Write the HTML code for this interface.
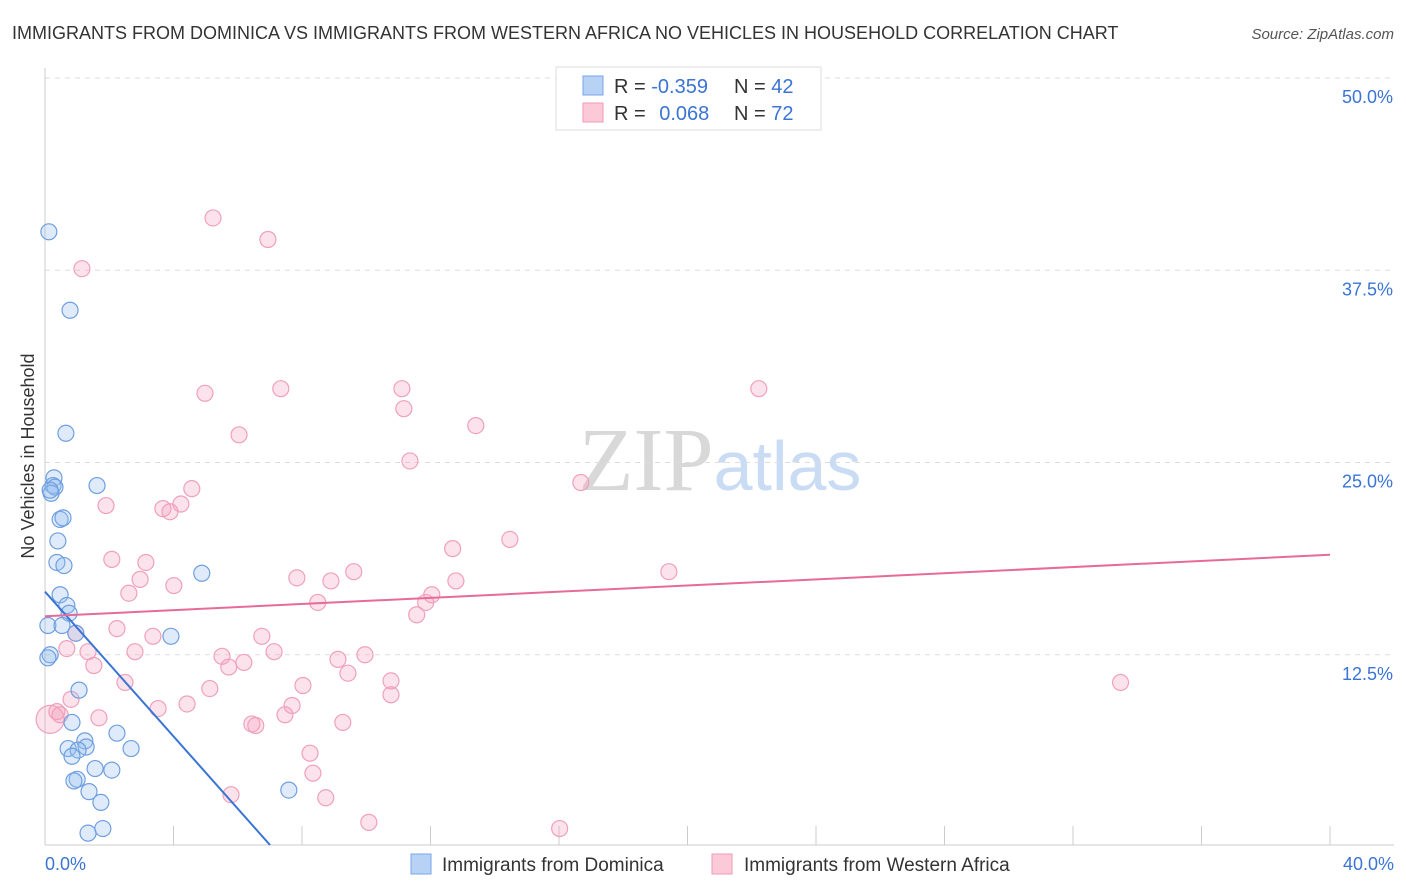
<!DOCTYPE html>
<html><head><meta charset="utf-8"><style>
body{margin:0;background:#fff;font-family:"Liberation Sans",sans-serif;}
svg{display:block}
</style></head><body>
<svg id="chart" width="1406" height="892">
<text x="12" y="39" font-size="18" fill="#333">IMMIGRANTS FROM DOMINICA VS IMMIGRANTS FROM WESTERN AFRICA NO VEHICLES IN HOUSEHOLD CORRELATION CHART</text>
<text x="1394" y="39" font-size="15" fill="#555" text-anchor="end" font-style="italic">Source: ZipAtlas.com</text>
<text x="34" y="456" font-size="18" fill="#333" text-anchor="middle" transform="rotate(-90 34 456)">No Vehicles in Household</text>
<text x="720" y="490" font-size="90" fill="#ddd" text-anchor="middle" font-family="Liberation Serif,serif"><tspan fill="#d8d8d8">ZIP</tspan><tspan fill="#c9dcf3" font-family="Liberation Sans,sans-serif" font-size="70">atlas</tspan></text>
<g id="grid"></g><g id="pts"></g><g id="trend"></g>
<g>
<rect x="556" y="67" width="265" height="63" fill="#fff" stroke="#ddd"/>
<rect x="583" y="76" width="20" height="19" fill="#b8d2f5" stroke="#7aa6e8"/>
<rect x="583" y="103" width="20" height="19" fill="#fbc9d8" stroke="#f09ab5"/>
<text x="614" y="93" font-size="20" fill="#333">R = <tspan fill="#3a74d4">-0.359</tspan></text>
<text x="734" y="93" font-size="20" fill="#333">N = <tspan fill="#3a74d4">42</tspan></text>
<text x="614" y="120" font-size="20" fill="#333">R = <tspan fill="#3a74d4" dx="8">0.068</tspan></text>
<text x="734" y="120" font-size="20" fill="#333">N = <tspan fill="#3a74d4">72</tspan></text>
</g>
<g>
<rect x="411" y="854" width="20" height="20" fill="#b8d2f5" stroke="#7aa6e8"/>
<text x="442" y="871" font-size="19" fill="#333">Immigrants from Dominica</text>
<rect x="712" y="854" width="20" height="20" fill="#fbc9d8" stroke="#f09ab5"/>
<text x="744" y="871" font-size="19" fill="#333">Immigrants from Western Africa</text>
</g>
</svg>
<script>
const yTicks=[12.5,25,37.5,50];
const xTickCount=10;
const xLabels=["0.0%","40.0%"];
const blueX=[0.12,0.78,0.65,0.28,0.25,0.31,0.19,1.62,0.47,0.56,0.40,0.37,0.59,4.88,0.47,0.68,0.75,0.09,0.53,0.96,3.92,0.16,0.09,1.06,0.84,2.24,1.24,0.72,1.28,1.03,0.84,2.68,1.56,2.08,1.00,0.90,1.37,1.74,7.59,1.34,1.80,0.16];
const blueY=[40.0,34.9,26.9,24.0,23.5,23.4,23.0,23.5,21.3,21.4,19.9,18.5,18.3,17.8,16.4,15.7,15.2,14.4,14.4,13.9,13.7,12.5,12.3,10.2,8.1,7.4,6.9,6.4,6.5,6.3,5.9,6.4,5.1,5.0,4.4,4.3,3.6,2.9,3.7,0.9,1.2,23.2];
const pinkX=[5.23,6.94,1.15,4.98,7.34,11.11,11.17,6.04,13.41,11.36,22.22,16.68,4.57,1.90,4.23,3.67,3.89,14.47,12.69,2.08,3.14,2.96,4.01,2.61,7.84,8.90,9.61,12.79,19.42,8.49,12.04,11.85,11.57,2.24,3.36,0.96,6.75,7.13,2.80,5.51,5.72,6.19,9.12,9.96,9.43,0.68,1.34,1.52,2.49,10.77,10.77,5.13,8.03,7.69,4.42,3.52,7.47,1.68,0.81,0.37,0.47,6.44,6.56,9.27,8.25,8.34,5.79,8.74,10.08,16.02,33.48,0.16];
const pinkY=[40.9,39.5,37.6,29.5,29.8,29.8,28.5,26.8,27.4,25.1,29.8,23.7,23.3,22.2,22.3,22.0,21.8,20.0,19.4,18.7,18.5,17.4,17.0,16.5,17.5,17.3,17.9,17.3,17.9,15.9,16.4,15.9,15.1,14.2,13.7,13.9,13.7,12.7,12.7,12.4,11.7,12.0,12.2,12.5,11.3,12.9,12.7,11.8,10.7,10.8,9.9,10.3,10.5,9.2,9.3,9.0,8.6,8.4,9.6,8.8,8.6,8.0,7.9,8.1,6.1,4.8,3.4,3.2,1.6,1.2,10.7,8.3];
const blueTrend=[16.6,-2.37];
const pinkTrend=[15.0,0.1];
const NS="http://www.w3.org/2000/svg";
const X0=45,X1=1330,Y0=847,Y1=78;
const sx=v=>X0+(X1-X0)*v/40, sy=v=>Y0-(Y0-Y1)*v/50;
function mk(t,a,p){const e=document.createElementNS(NS,t);for(const k in a)e.setAttribute(k,a[k]);p.appendChild(e);return e;}
const g=document.getElementById('grid');
yTicks.forEach(t=>{
 const l=mk('line',{x1:X0,x2:1394,y1:sy(t),y2:sy(t),stroke:'#ddd','stroke-dasharray':'5,5'},g);
 
 
 const tx=mk('text',{x:1393,y:sy(t)+25,'font-size':18,fill:'#3a74d4','text-anchor':'end'},g);
 tx.textContent=t.toFixed(1)+'%';
 
 
});
const ax=mk('line',{x1:X0,x2:1394,y1:845,y2:845,stroke:'#ccc'},g);


const ay=mk('line',{x1:X0,x2:X0,y1:68,y2:845,stroke:'#ccc'},g);


for(let i=0;i<=xTickCount;i++){
 const t=mk('line',{x1:sx(i*4),x2:sx(i*4),y1:826,y2:845,stroke:'#ccc'},g);
 
 
}
[[0,'start',45],[40,'end',1394]].forEach((d,i)=>{
 const t=mk('text',{x:d[2],y:870,'font-size':18,fill:'#3a74d4','text-anchor':d[1]},g);
 t.textContent=xLabels[i];
 
 
});
const p=document.getElementById('pts');
pinkX.forEach((x,i)=>{
 const c=mk('circle',{cx:sx(x),cy:sy(pinkY[i]),r:i===pinkX.length-1?14:8,fill:'rgba(245,160,190,0.3)',stroke:'#f0a0bb','stroke-width':1.2},p);
 
 
});
blueX.forEach((x,i)=>{
 const c=mk('circle',{cx:sx(x),cy:sy(blueY[i]),r:8,fill:'rgba(150,190,240,0.3)',stroke:'#6f9fe0','stroke-width':1.2},p);
 
 
});
const tr=document.getElementById('trend');
const bx1=-blueTrend[0]/blueTrend[1];
const bl=mk('line',{x1:sx(0),y1:sy(blueTrend[0]),x2:sx(bx1),y2:sy(0)-2,stroke:'#3a74d4','stroke-width':2},tr);


const pl=mk('line',{x1:sx(0),y1:sy(pinkTrend[0]),x2:sx(40),y2:sy(pinkTrend[0]+pinkTrend[1]*40),stroke:'#e66b98','stroke-width':2},tr);


</script>
</body></html>
